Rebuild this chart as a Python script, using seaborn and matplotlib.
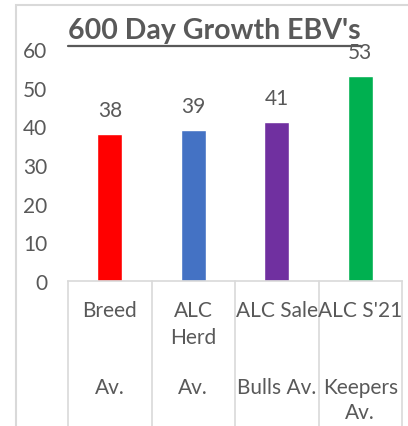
import matplotlib
matplotlib.use("Agg")
import matplotlib.pyplot as plt
import seaborn as sns
import pandas as pd
from matplotlib.lines import Line2D
from matplotlib.patches import Rectangle
from matplotlib.transforms import blended_transform_factory

categories = ["Breed Av.", "ALC Herd Av.", "ALC Sale Bulls Av.", "ALC S'21 Keepers Av."]
top_lines = ["Breed", "ALC\nHerd", "ALC Sale", "ALC S'21"]
bottom_lines = ["Av.", "Av.", "Bulls Av.", "Keepers\nAv."]
values = [38, 39, 41, 53]
colors = ["#FF0000", "#4472C4", "#7030A0", "#00B050"]
yticks = [0, 10, 20, 30, 40, 50, 60]
title = "600 Day Growth EBV's"

sns.set_style("white")
plt.rcParams["font.family"] = ["Lato", "DejaVu Sans"]
TXT = "#595959"
GRID = "#D9D9D9"

W, H = 408, 427
fig = plt.figure(figsize=(W / 100, H / 100), dpi=100)
fig.patch.set_facecolor("white")

ax = fig.add_axes([68 / W, (H - 282) / H, 334 / W, 232 / H])
df = pd.DataFrame({"cat": categories, "val": values})
sns.barplot(data=df, x="cat", y="val", hue="cat", palette=colors,
            width=0.3, legend=False, ax=ax, saturation=1)

ax.set_ylim(0, 60)
ax.set_xlim(-0.5, 3.5)
ax.set_yticks(yticks)
ax.set_yticklabels([str(t) for t in yticks], color=TXT, fontsize=15)
ax.tick_params(axis="y", length=0, pad=15)
ax.set_xticks([])
ax.set_xlabel("")
ax.set_ylabel("")
for s in ["top", "right", "left"]:
    ax.spines[s].set_visible(False)
ax.spines["bottom"].set_color(GRID)
ax.spines["bottom"].set_linewidth(1.2)
ax.patch.set_alpha(0)

# data labels
for i, v in enumerate(values):
    ax.annotate(str(v), (i, v), xytext=(0, 17.5), textcoords="offset points",
                ha="center", va="center", fontsize=15, color=TXT)

# category separators and labels
trans = blended_transform_factory(ax.transData, fig.transFigure)
for b in [-0.5, 0.5, 1.5, 2.5, 3.5]:
    fig.add_artist(Line2D([b, b], [(H - 282) / H, 0], transform=trans,
                          color=GRID, lw=1.2))
for i in range(len(categories)):
    fig.text(i, (H - 301) / H, top_lines[i], transform=trans, ha="center",
             va="top", fontsize=15, color=TXT, linespacing=1.45)
    fig.text(i, (H - 378) / H, bottom_lines[i], transform=trans, ha="center",
             va="top", fontsize=15, color=TXT, linespacing=1.3)

# chart area border
fig.add_artist(Rectangle((16 / W, -0.1), 1.2, (H - 6) / H + 0.1,
                         transform=fig.transFigure, fill=False,
                         edgecolor=GRID, lw=1.5))

# title with underline
fig.text(68 / W, (H - 31) / H, title, ha="left", va="center", fontsize=20.5,
         fontweight="bold", color=TXT)
fig.add_artist(Line2D([68 / W, 361 / W], [(H - 47) / H] * 2,
                      transform=fig.transFigure, color=TXT, lw=1.6))

fig.savefig("out.png", dpi=100)
